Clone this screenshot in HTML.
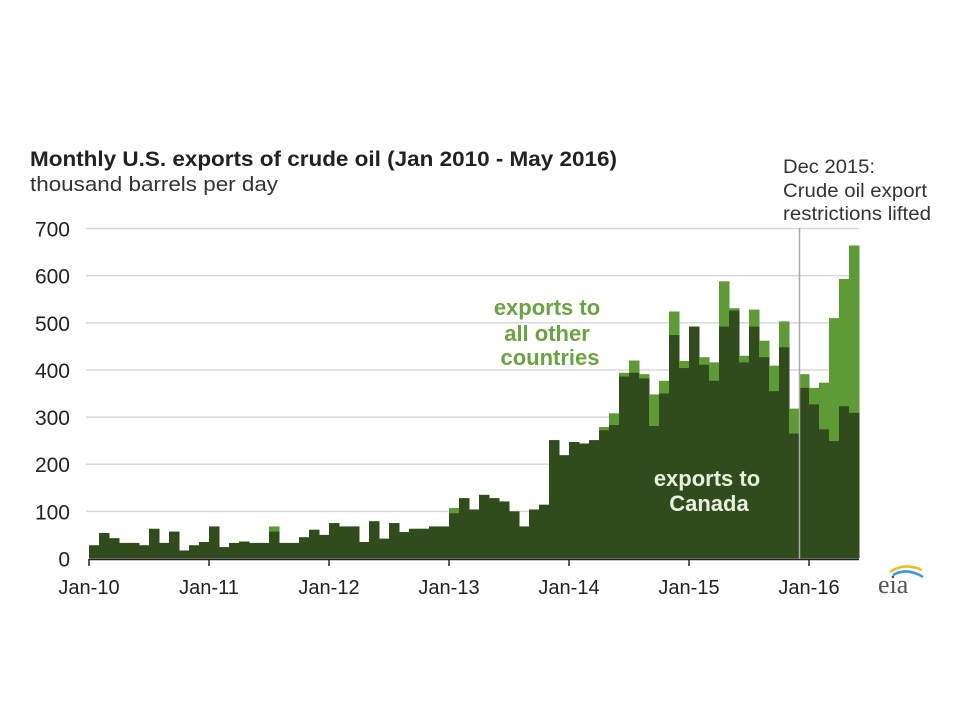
<!DOCTYPE html>
<html><head><meta charset="utf-8"><style>
body{margin:0;background:#fff;}
svg{display:block;font-family:"Liberation Sans",Arial,sans-serif;}
</style></head><body>
<svg id="chart" width="960" height="720" viewBox="0 0 960 720">
<text x="30" y="166" font-size="21" font-weight="bold" fill="#222" textLength="587" lengthAdjust="spacingAndGlyphs">Monthly U.S. exports of crude oil (Jan 2010 - May 2016)</text>
<text x="30" y="191" font-size="20" fill="#333" textLength="248" lengthAdjust="spacingAndGlyphs">thousand barrels per day</text>
<g id="grid"></g>
<g id="yticks"></g>
<g id="bars"></g>
<g id="xticks"></g>
<line x1="799.5" y1="228" x2="799.5" y2="559" stroke="#aaa" stroke-width="1.5"/>
<g font-size="19" fill="#333">
<text x="783" y="173" textLength="92" lengthAdjust="spacingAndGlyphs">Dec 2015:</text>
<text x="783" y="197" textLength="144" lengthAdjust="spacingAndGlyphs">Crude oil export</text>
<text x="783" y="220" textLength="148" lengthAdjust="spacingAndGlyphs">restrictions lifted</text>
</g>
<g font-size="22" font-weight="bold" fill="#6aa33f" text-anchor="middle">
<text x="547" y="315">exports to</text>
<text x="547" y="341">all other</text>
<text x="550" y="365">countries</text>
</g>
<g font-size="22" font-weight="bold" fill="#e8f0e0" text-anchor="middle">
<text x="707" y="486">exports to</text>
<text x="709" y="511">Canada</text>
</g>
<g>
<text x="878" y="593" font-size="26" fill="#555" font-family="Liberation Serif,serif">eia</text>
<path d="M890 572 q14 -10 32 -2" stroke="#e8c020" stroke-width="2.5" fill="none"/>
<path d="M893 575 q14 -8 30 2" stroke="#3a9ad9" stroke-width="2.5" fill="none"/>
</g>
</svg>
<script>
const months = 77;
const totalValues = [28,54,43,33,33,28,63,33,57,17,28,35,68,24,33,36,33,33,68,33,33,45,61,50,75,68,68,35,79,42,75,56,63,63,68,68,107,128,104,135,128,121,100,68,104,114,251,219,247,244,251,279,308,394,420,391,348,377,524,419,492,427,416,588,531,430,528,462,409,503,318,391,362,373,510,593,664];
const canadaValues = [28,54,43,33,33,28,63,33,57,17,28,35,68,24,33,36,33,33,57,33,33,45,61,50,75,68,68,35,79,42,75,56,63,63,68,68,96,128,104,135,128,121,100,68,104,114,251,219,247,244,251,272,283,386,394,382,281,350,474,404,492,411,377,492,526,416,492,427,355,448,265,362,327,274,249,323,309];
const yTicks = [0,100,200,300,400,500,600,700];
const xTickLabels = ["Jan-10","Jan-11","Jan-12","Jan-13","Jan-14","Jan-15","Jan-16"];
const NS="http://www.w3.org/2000/svg";
const x0=89, bw=10, y0=558.5, k=0.4714;
const xs=i=>x0+i*bw, ys=v=>y0-v*k;
function mk(tag,attrs,parent){const e=document.createElementNS(NS,tag);for(const a in attrs)e.setAttribute(a,attrs[a]);parent.appendChild(e);return e;}
const grid=document.getElementById('grid'),yt=document.getElementById('yticks'),bars=document.getElementById('bars'),xt=document.getElementById('xticks');
yTicks.forEach(v=>{
  if(v>0){const l=mk('line',{x1:x0-3,x2:xs(months),y1:ys(v),y2:ys(v),stroke:'#d9d9d9','stroke-width':1.5},grid);
  
  }
  const t=mk('text',{x:70,y:ys(v)+8,'text-anchor':'end','font-size':21,fill:'#222'},yt);
  t.textContent=v;
  
  
});
totalValues.forEach((v,i)=>{
  const r=mk('rect',{x:xs(i),y:ys(v),width:bw+0.5,height:y0-ys(v),fill:'#5e9a35'},bars);
  
  
  const c=canadaValues[i];
  const r2=mk('rect',{x:xs(i),y:ys(c),width:bw+0.5,height:y0-ys(c),fill:'#304c1d'},bars);
  
  
});
const ax=mk('line',{x1:x0,x2:xs(months),y1:559.5,y2:559.5,stroke:'#222','stroke-width':1.5},xt);


xTickLabels.forEach((s,j)=>{
  const x=xs(j*12);
  const l=mk('line',{x1:x,x2:x,y1:559,y2:566,stroke:'#222','stroke-width':1.5},xt);
  
  
  const t=mk('text',{x:x,y:594,'text-anchor':'middle','font-size':20,fill:'#222'},xt);
  t.textContent=s;
  
  
});
</script>
</body></html>
